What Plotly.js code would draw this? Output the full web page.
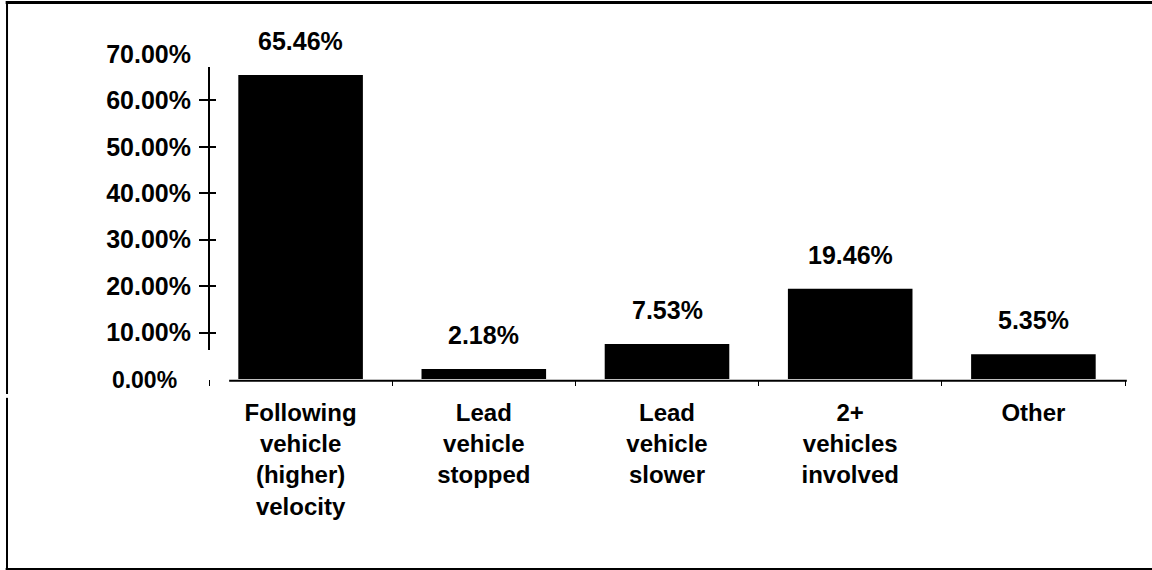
<!DOCTYPE html>
<html>
<head>
<meta charset="utf-8">
<script src="https://cdn.plot.ly/plotly-3.0.1.min.js"></script>
<style>
  html, body { margin: 0; padding: 0; background: #ffffff; }
  #chart { width: 1152px; height: 570px; }
</style>
</head>
<body>
<div id="chart"></div>
<script>
// ---- data ----
const categories = [
  "Following<br>vehicle<br>(higher)<br>velocity",
  "Lead<br>vehicle<br>stopped",
  "Lead<br>vehicle<br>slower",
  "2+<br>vehicles<br>involved",
  "Other"
];
const values = [65.46, 2.18, 7.53, 19.46, 5.35];
const yTickVals = [0, 10, 20, 30, 40, 50, 60, 70];
const yTickText = ["<span style=\"font-size:23px\">0.00%</span>&nbsp;&nbsp;", "10.00%", "20.00%", "30.00%", "40.00%", "50.00%", "60.00%", "70.00%"];
const yMarkVals = [10, 20, 30, 40, 50, 60];

const FONT = "Liberation Sans, Arial, Helvetica, sans-serif";

const traces = [
  {
    type: "bar",
    x: categories,
    y: values,
    marker: { color: "#000000", line: { width: 0 } },
    hoverinfo: "skip",
    showlegend: false
  },
  // helper traces so that the overlaid tick-mark axes are drawn
  { type: "scatter", x: categories, y: categories.map(() => null), yaxis: "y2", hoverinfo: "skip", showlegend: false },
  { type: "scatter", x: categories, y: categories.map(() => null), yaxis: "y3", hoverinfo: "skip", showlegend: false }
];

const annotations = values.map((v, i) => ({
  x: categories[i],
  y: v,
  xref: "x",
  yref: "y",
  text: v.toFixed(2) + "%",
  showarrow: false,
  yanchor: "middle",
  yshift: 34,
  font: { family: FONT, size: 25, color: "#000000", weight: "bold" }
}));

const layout = {
  width: 1152,
  height: 570,
  paper_bgcolor: "#ffffff",
  plot_bgcolor: "#ffffff",
  margin: { l: 209, r: 27, t: 54, b: 191, pad: 0 },
  bargap: 0.32,
  showlegend: false,
  font: { family: FONT, color: "#000000" },
  xaxis: {
    type: "category",
    range: [-0.5, 4.5],
    showline: false,
    showgrid: false,
    zeroline: false,
    ticks: "outside",
    tickson: "boundaries",
    ticklen: 6,
    tickwidth: 1,
    tickcolor: "#000000",
    ticklabelstandoff: 17,
    tickfont: { family: FONT, size: 24, color: "#000000", weight: "bold" },
    fixedrange: true
  },
  yaxis: {
    range: [0, 70],
    tickmode: "array",
    tickvals: yTickVals,
    ticktext: yTickText,
    ticks: "",
    ticklabelstandoff: 17,
    showline: false,
    showgrid: false,
    zeroline: false,
    tickfont: { family: FONT, size: 25, color: "#000000", weight: "bold" },
    fixedrange: true
  },
  yaxis2: {
    overlaying: "y",
    matches: "y",
    side: "left",
    tickmode: "array",
    tickvals: yMarkVals,
    showticklabels: false,
    ticks: "outside",
    ticklen: 9,
    tickwidth: 2,
    tickcolor: "#000000",
    showline: false,
    showgrid: false,
    zeroline: false,
    fixedrange: true
  },
  yaxis3: {
    overlaying: "y",
    matches: "y",
    side: "left",
    tickmode: "array",
    tickvals: yMarkVals,
    showticklabels: false,
    ticks: "inside",
    ticklen: 7,
    tickwidth: 2,
    tickcolor: "#000000",
    showline: false,
    showgrid: false,
    zeroline: false,
    fixedrange: true
  },
  annotations: annotations,
  shapes: [
    // y-axis line
    { type: "line", xref: "paper", yref: "paper", x0: 0, x1: 0, y0: 0.089, y1: 0.96, line: { color: "#000000", width: 2 } },
    // x-axis line
    { type: "line", xref: "paper", yref: "paper", x0: 0.022, x1: 1.002, y0: -0.005, y1: -0.005, line: { color: "#000000", width: 2 } },
    // outer frame: top, left (two parts), bottom
    { type: "line", xref: "paper", yref: "paper", x0: -0.222, x1: 1.05, y0: 1.1585, y1: 1.1585, line: { color: "#000000", width: 3 } },
    { type: "line", xref: "paper", yref: "paper", x0: -0.2205, x1: -0.2205, y0: 1.16, y1: -0.046, line: { color: "#000000", width: 2 } },
    { type: "line", xref: "paper", yref: "paper", x0: -0.2205, x1: -0.2205, y0: -0.058, y1: -0.588, line: { color: "#000000", width: 2 } },
    { type: "line", xref: "paper", yref: "paper", x0: -0.222, x1: 1.05, y0: -0.5846, y1: -0.5846, line: { color: "#000000", width: 2 } }
  ]
};

Plotly.newPlot("chart", traces, layout, { displayModeBar: false, staticPlot: true });
</script>
</body>
</html>
